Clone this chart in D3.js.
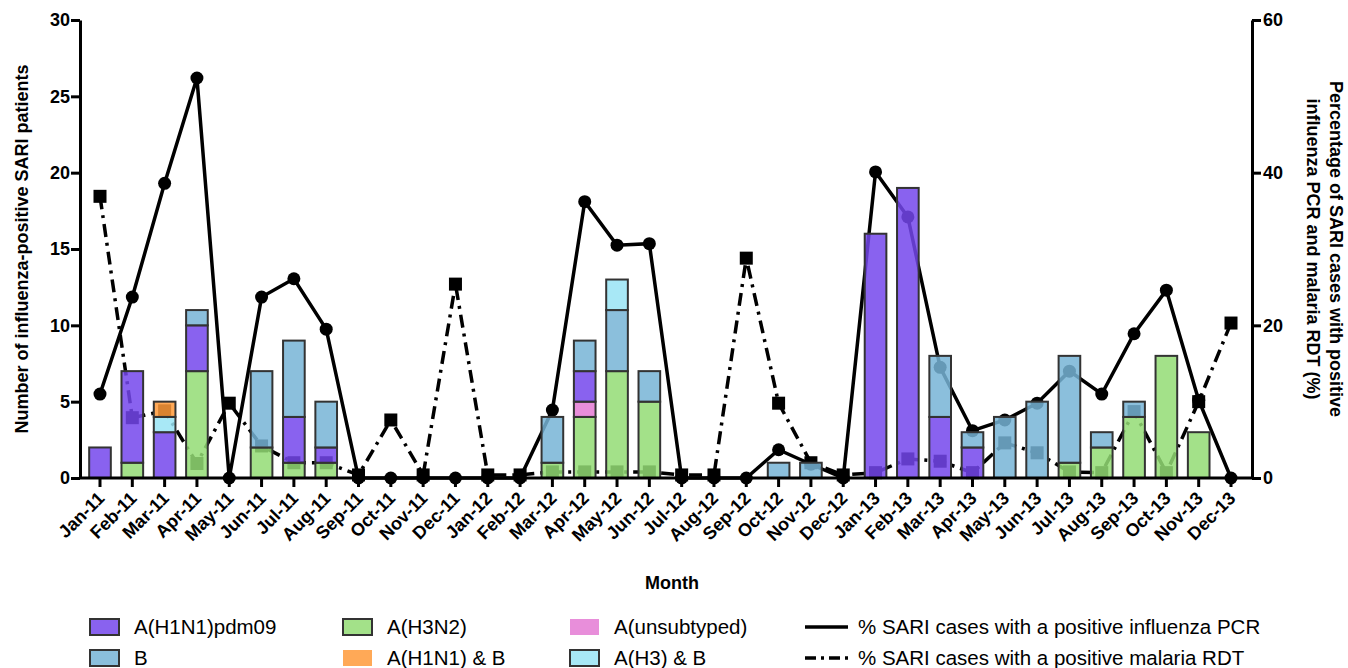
<!DOCTYPE html>
<html>
<head>
<meta charset="utf-8">
<script src="https://cdn.jsdelivr.net/npm/d3@7"></script>
<style>
  body { margin: 0; background: #fff; }
  text { font-family: "Liberation Sans", Arial, Helvetica, sans-serif; }
</style>
</head>
<body>
<div id="chart"></div>
<script>
// months on the x axis
var months = ["Jan-11","Feb-11","Mar-11","Apr-11","May-11","Jun-11","Jul-11","Aug-11","Sep-11","Oct-11","Nov-11","Dec-11",
              "Jan-12","Feb-12","Mar-12","Apr-12","May-12","Jun-12","Jul-12","Aug-12","Sep-12","Oct-12","Nov-12","Dec-12",
              "Jan-13","Feb-13","Mar-13","Apr-13","May-13","Jun-13","Jul-13","Aug-13","Sep-13","Oct-13","Nov-13","Dec-13"];

// number of positive patients per subtype
var h3n2    = [0,1,0,7,0,2,1,1,0,0,0,0, 0,0,1,4,7,5,0,0,0,0,0,0, 0,0,0,0,0,0,1,2,4,8,3,0];
var unsub   = [0,0,0,0,0,0,0,0,0,0,0,0, 0,0,0,1,0,0,0,0,0,0,0,0, 0,0,0,0,0,0,0,0,0,0,0,0];
var h1n1pdm = [2,6,3,3,0,0,3,1,0,0,0,0, 0,0,0,2,0,0,0,0,0,0,0,0, 16,19,4,2,0,0,0,0,0,0,0,0];
var fluB    = [0,0,0,1,0,5,5,3,0,0,0,0, 0,0,3,2,4,2,0,0,0,1,1,0, 0,0,4,1,4,5,7,1,1,0,0,0];
var h3B     = [0,0,1,0,0,0,0,0,0,0,0,0, 0,0,0,0,2,0,0,0,0,0,0,0, 0,0,0,0,0,0,0,0,0,0,0,0];
var h1n1B   = [0,0,1,0,0,0,0,0,0,0,0,0, 0,0,0,0,0,0,0,0,0,0,0,0, 0,0,0,0,0,0,0,0,0,0,0,0];

// percentages (right axis)
var pctPCR = [11,23.7,38.6,52.4,0,23.7,26.1,19.5,0,0,0,0, 0,0,8.9,36.2,30.5,30.7,0,0,0,3.7,1.8,0,
              40.1,34.2,14.5,6.2,7.6,9.8,14,11,18.9,24.6,10.2,0];
var pctRDT = [36.9,7.9,8.8,1.9,9.8,4.2,2,2,0.4,7.6,0.4,25.4, 0.4,0.4,0.8,0.8,0.8,0.8,0.4,0.4,28.8,9.8,2,0.4,
              0.7,2.5,2.2,0.7,4.6,3.3,0.8,0.7,8.7,0.7,10,20.3];

var keys = ["h3n2","unsub","h1n1pdm","fluB","h3B","h1n1B"];
var keyLabels = {h1n1pdm:"A(H1N1)pdm09", fluB:"B", h3n2:"A(H3N2)", h1n1B:"A(H1N1) & B", unsub:"A(unsubtyped)", h3B:"A(H3) & B"};
var colors = {h1n1pdm:"#7447ec", fluB:"#77b4d6", h3n2:"#93dc74", unsub:"#e47ad4", h1n1B:"#ff9a3a", h3B:"#99e4f4"};

var leftTicks = [0,5,10,15,20,25,30];
var rightTicks = [0,20,40,60];

var width = 1348, height = 668;
var x0 = 80, x1 = 1252, yTop = 20, yBot = 478;

var svg = d3.select("#chart").append("svg")
    .attr("width", width)
    .attr("height", height);

var table = months.map(function(m, i) {
  return {month: m, h3n2: h3n2[i], unsub: unsub[i], h1n1pdm: h1n1pdm[i], fluB: fluB[i], h3B: h3B[i], h1n1B: h1n1B[i],
          pcr: pctPCR[i], rdt: pctRDT[i]};
});

var x = d3.scaleBand().domain(months).range([84, 1247]).paddingInner(0.33).paddingOuter(0.16);
var y = d3.scaleLinear().domain([0, 30]).range([yBot, yTop]);
var y2 = d3.scaleLinear().domain([0, 60]).range([yBot, yTop]);
var cx = function(d) { return x(d.month) + x.bandwidth() / 2; };

// lines first, bars are drawn on top with some transparency
var pcrLine = d3.line().x(cx).y(function(d) { return y2(d.pcr); });
var rdtLine = d3.line().x(cx).y(function(d) { return y2(d.rdt); });

svg.append("path").datum(table)
  .attr("d", rdtLine).attr("fill", "none").attr("stroke", "#000")
  .attr("stroke-width", 3.5).attr("stroke-dasharray", "13,6,3,6");
svg.append("path").datum(table)
  .attr("d", pcrLine).attr("fill", "none").attr("stroke", "#000")
  .attr("stroke-width", 3.5);

svg.append("g").selectAll("rect").data(table).enter().append("rect")
  .attr("x", function(d) { return cx(d) - 6.5; })
  .attr("y", function(d) { return y2(d.rdt) - 6.5; })
  .attr("width", 13).attr("height", 13).attr("fill", "#000");
svg.append("g").selectAll("circle").data(table).enter().append("circle")
  .attr("cx", cx)
  .attr("cy", function(d) { return y2(d.pcr); })
  .attr("r", 6.5).attr("fill", "#000");

// stacked bars
var series = d3.stack().keys(keys)(table);
svg.append("g").selectAll("g").data(series).enter().append("g")
  .attr("fill", function(s) { return colors[s.key]; })
  .selectAll("rect")
  .data(function(s) { return s.filter(function(d) { return d[1] - d[0] > 0; }); })
  .enter().append("rect")
    .attr("x", function(d) { return x(d.data.month); })
    .attr("y", function(d) { return y(d[1]); })
    .attr("width", x.bandwidth())
    .attr("height", function(d) { return y(d[0]) - y(d[1]); })
    .attr("fill-opacity", 0.85)
    .attr("stroke", "#333")
    .attr("stroke-width", 2);

// axes
var xAxis = svg.append("g")
  .attr("transform", "translate(0," + yBot + ")")
  .call(d3.axisBottom(x).tickSize(9).tickSizeOuter(0));
xAxis.select(".domain").attr("d", "M" + x0 + ",0H" + x1);
xAxis.selectAll("text")
  .attr("font-size", 18).attr("font-weight", "bold")
  .attr("text-anchor", "end")
  .attr("x", 0).attr("y", 0).attr("dy", "0.35em")
  .attr("transform", "translate(1,17) rotate(-45)");

var lAxis = svg.append("g")
  .attr("transform", "translate(" + x0 + ",0)")
  .call(d3.axisLeft(y).tickValues(leftTicks).tickSize(9).tickSizeOuter(0));
lAxis.selectAll("text").attr("font-size", 18).attr("font-weight", "bold").attr("x", -10);

var rAxis = svg.append("g")
  .attr("transform", "translate(" + x1 + ",0)")
  .call(d3.axisRight(y2).tickValues(rightTicks).tickSize(9).tickSizeOuter(0));
rAxis.selectAll("text").attr("font-size", 18).attr("font-weight", "bold").attr("x", 11);

svg.selectAll(".domain, .tick line").attr("stroke", "#000").attr("stroke-width", 3);
svg.selectAll(".tick text").attr("fill", "#000");

// axis titles
svg.append("text")
  .attr("transform", "translate(28," + ((yTop + yBot) / 2) + ") rotate(-90)")
  .attr("text-anchor", "middle").attr("font-size", 18).attr("font-weight", "bold")
  .text("Number of influenza-positive SARI patients");

var rt = svg.append("text")
  .attr("transform", "translate(1330," + ((yTop + yBot) / 2) + ") rotate(90)")
  .attr("text-anchor", "middle").attr("font-size", 18).attr("font-weight", "bold");
rt.append("tspan").attr("x", 0).attr("dy", 0).text("Percentage of SARI cases with positive");
rt.append("tspan").attr("x", 0).attr("dy", 23).text("influenza PCR and malaria RDT (%)");

svg.append("text")
  .attr("x", 672).attr("y", 589)
  .attr("text-anchor", "middle").attr("font-size", 18).attr("font-weight", "bold")
  .text("Month");

// legend
var legendItems = [
  {key: "h1n1pdm", col: 0, row: 0}, {key: "h3n2", col: 1, row: 0}, {key: "unsub", col: 2, row: 0},
  {key: "fluB", col: 0, row: 1}, {key: "h1n1B", col: 1, row: 1}, {key: "h3B", col: 2, row: 1}
];
var colX = [90, 343, 570];
var rowY = [627, 658];

var lg = svg.append("g").selectAll("g").data(legendItems).enter().append("g")
  .attr("transform", function(d) { return "translate(" + colX[d.col] + "," + rowY[d.row] + ")"; });
lg.append("rect")
  .attr("x", 0).attr("y", -8).attr("width", 29).attr("height", 16)
  .attr("fill", function(d) { return colors[d.key]; })
  .attr("fill-opacity", 0.85)
  .attr("stroke", function(d) { return (d.key === "unsub" || d.key === "h1n1B") ? "none" : "#333"; })
  .attr("stroke-width", 2);
lg.append("text")
  .attr("x", 44).attr("y", 0).attr("dy", "0.35em")
  .attr("font-size", 20.5)
  .text(function(d) { return keyLabels[d.key]; });

var lineLegend = [
  {label: "% SARI cases with a positive influenza PCR", dash: null, row: 0},
  {label: "% SARI cases with a positive malaria RDT", dash: "11,5,3,5", row: 1}
];
var ll = svg.append("g").selectAll("g").data(lineLegend).enter().append("g")
  .attr("transform", function(d) { return "translate(805," + rowY[d.row] + ")"; });
ll.append("line")
  .attr("x1", 0).attr("x2", 43).attr("y1", 0).attr("y2", 0)
  .attr("stroke", "#000").attr("stroke-width", 3.5)
  .attr("stroke-dasharray", function(d) { return d.dash; });
ll.append("text")
  .attr("x", 53).attr("y", 0).attr("dy", "0.35em")
  .attr("font-size", 20.5)
  .text(function(d) { return d.label; });
</script>
</body>
</html>
